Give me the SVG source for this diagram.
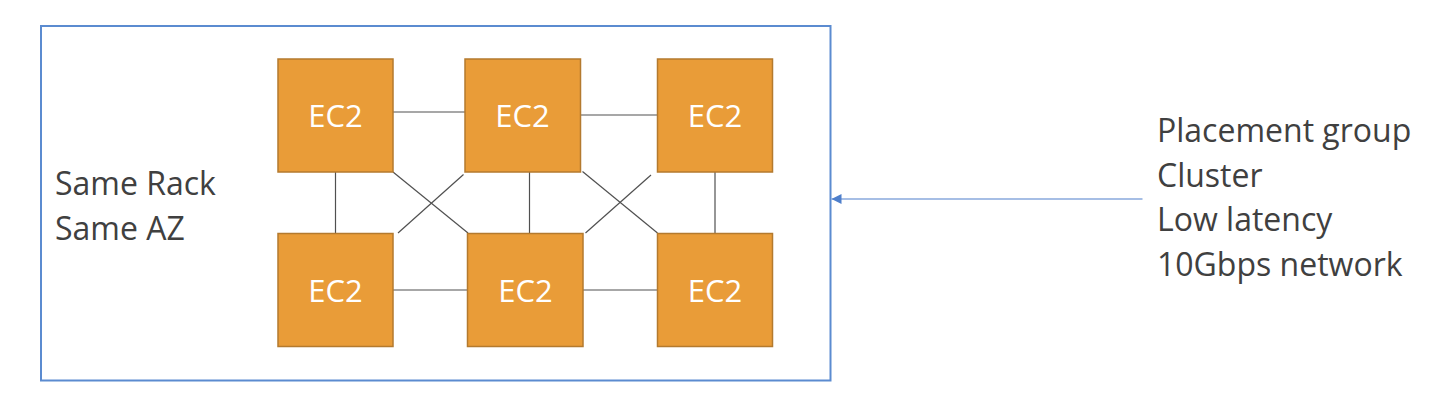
<svg xmlns="http://www.w3.org/2000/svg" width="1442" height="416" viewBox="0 0 1442 416">
<style>
.node rect{fill:#E99C38;stroke:#B47A2E;stroke-width:1.5}
.node text{fill:#FFFFFF;font-family:"Open Sans","Liberation Sans",sans-serif;font-size:31px;text-anchor:middle}
.lbl{fill:#404040;font-family:"Open Sans","Liberation Sans",sans-serif;font-size:32px}
.link{stroke:#505050;stroke-width:1.2;fill:none}
</style>
<defs>
<marker id="ah" markerWidth="10" markerHeight="10" refX="10" refY="5" orient="auto" markerUnits="userSpaceOnUse">
<path d="M0,0 L10,5 L0,10 Z" fill="#4E7FCB"/>
</marker>
</defs>
<rect width="1442" height="416" fill="#FFFFFF"/>
<g id="container">
<rect x="41" y="26" width="789.5" height="354.5" fill="none" stroke="#5B8BD0" stroke-width="2"/>
<text class="lbl" x="55" y="195">Same Rack</text>
<text class="lbl" x="55" y="240">Same AZ</text>
</g>
<g id="connectors">
<line class="link" x1="393" y1="112" x2="471" y2="112"/>
<line class="link" x1="580" y1="115" x2="658" y2="115"/>
<line class="link" x1="393" y1="290" x2="471" y2="290"/>
<line class="link" x1="583" y1="290" x2="661" y2="290"/>
<line class="link" x1="335.5" y1="172" x2="335.5" y2="233"/>
<line class="link" x1="529.5" y1="172" x2="529.5" y2="233"/>
<line class="link" x1="715" y1="172" x2="715" y2="233"/>
<line class="link" x1="393" y1="172" x2="468" y2="233"/>
<line class="link" x1="463.5" y1="174.5" x2="398" y2="233"/>
<line class="link" x1="582.5" y1="171.5" x2="657.5" y2="233"/>
<line class="link" x1="651" y1="175" x2="585.5" y2="233"/>
<line x1="1142.5" y1="199" x2="831.5" y2="199" stroke="#4E7FCB" stroke-width="1.2" marker-end="url(#ah)"/>
</g>
<g id="ec2-1" class="node"><rect x="278" y="59" width="115" height="113"/><text x="335.5" y="126.5">EC2</text></g>
<g id="ec2-2" class="node"><rect x="465" y="59" width="115.5" height="113"/><text x="522.5" y="126.5">EC2</text></g>
<g id="ec2-3" class="node"><rect x="657.5" y="59" width="115" height="113"/><text x="715" y="126.5">EC2</text></g>
<g id="ec2-4" class="node"><rect x="278" y="233.5" width="115" height="113"/><text x="335.5" y="301.5">EC2</text></g>
<g id="ec2-5" class="node"><rect x="467.5" y="233.5" width="115.5" height="113"/><text x="525.5" y="301.5">EC2</text></g>
<g id="ec2-6" class="node"><rect x="657.5" y="233.5" width="115" height="113"/><text x="715" y="301.5">EC2</text></g>
<g id="note">
<text class="lbl" x="1157" y="142">Placement group</text>
<text class="lbl" x="1157" y="186.5">Cluster</text>
<text class="lbl" x="1157" y="231">Low latency</text>
<text class="lbl" x="1157" y="275.5">10Gbps network</text>
</g>
</svg>
